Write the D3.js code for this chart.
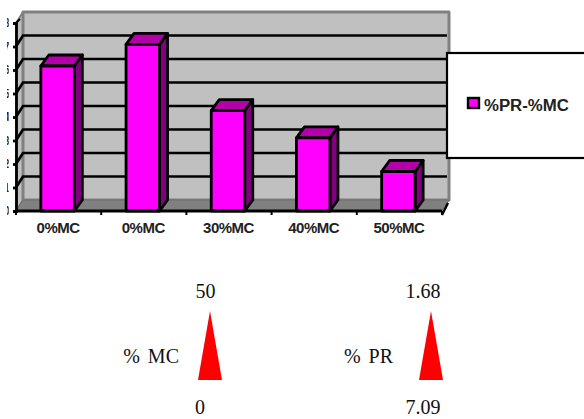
<!DOCTYPE html>
<html><head><meta charset="utf-8">
<script src="https://cdn.jsdelivr.net/npm/d3@7"></script>
<style>html,body{margin:0;padding:0;background:#fff}svg{display:block}</style>
</head><body><div id="c"></div>
<script>
const categories=["0%MC","0%MC","30%MC","40%MC","50%MC"];
const prValues=[6.17,7.09,4.27,3.11,1.68];
const yTicks=[0,1,2,3,4,5,6,7,8];
const seriesName="%PR-%MC";
const wedges=[{label:"% MC",top:"50",bottom:"0"},{label:"% PR",top:"1.68",bottom:"7.09"}];

const svg=d3.select("#c").append("svg").attr("width",584).attr("height",419);
const dx=7,dy=11;
const y=d3.scaleLinear().domain([0,8]).range([211,23]);
const bandX=d3.scaleBand().domain(d3.range(categories.length)).range([16,442]);
const x0=16,x1=442;
const poly=(pts,fill,stroke,sw)=>svg.append("polygon").attr("points",pts.map(p=>p.join(",")).join(" ")).attr("fill",fill).attr("stroke",stroke||"none").attr("stroke-width",sw||0).attr("stroke-linejoin","round");

// walls
poly([[x0,y(8)],[x0+dx,y(8)-dy],[x0+dx,y(0)-dy],[x0,y(0)]],"#c0c0c0","#808080",2);
poly([[x0+dx,y(8)-dy],[x1+dx,y(8)-dy],[x1+dx,y(0)-dy],[x0+dx,y(0)-dy]],"#c0c0c0","#808080",3);
poly([[x0,y(0)],[x0+dx,y(0)-dy],[x1+dx,y(0)-dy],[x1,y(0)]],"#808080","#6e6e6e",1);

// gridlines
svg.append("g").selectAll("path").data(yTicks.slice(1,-1)).join("path")
 .attr("d",d=>`M${x0},${y(d)}L${x0+dx},${y(d)-dy}H${x1+dx-2}`)
 .attr("fill","none").attr("stroke","#000").attr("stroke-width",2.7);
svg.append("path").attr("d",`M${x0},${y(8)}L${x0+dx-3},${y(8)-4}`).attr("stroke","#000").attr("stroke-width",2);

// axes
const gy=svg.append("g").attr("transform",`translate(${x0},0)`).call(d3.axisLeft(y).tickValues(yTicks).tickSize(3).tickPadding(6));
gy.selectAll("path,line").attr("stroke","#000").attr("stroke-width",2.8);
gy.selectAll("text").attr("font-family","Liberation Sans").attr("font-weight","bold").attr("font-size",12).attr("fill","#222").attr("x",-6);
gy.selectAll(".tick text").attr("clip-path","url(#labLocal)");
svg.append("defs").append("clipPath").attr("id","labLocal").append("rect").attr("x",-9).attr("y",-10).attr("width",1.7).attr("height",20);

// bars
const g=svg.append("g").selectAll("g").data(prValues).join("g");
const sw=2.8,bw=33.5;
const bx=(d,i)=>bandX(i)+bandX.bandwidth()/2-bw/2-1;
g.each(function(d,i){
  const s=d3.select(this),l=bx(d,i),r=l+bw,t=y(d),b=y(0),ddx=8,ddy=11;
  const p=(pts,f)=>s.append("polygon").attr("points",pts.map(q=>q.join(",")).join(" ")).attr("fill",f).attr("stroke","#000").attr("stroke-width",sw).attr("stroke-linejoin","round");
  p([[r,t],[r+ddx,t-ddy],[r+ddx,b-ddy],[r,b]],"#800080");
  p([[l,t],[l+ddx,t-ddy],[r+ddx,t-ddy],[r,t]],"#b400a8");
  p([[l,t],[r,t],[r,b],[l,b]],"#ff00ff");
});

// baseline on top
svg.append("path").attr("d",`M${x0},${y(0)}H${x1}`).attr("stroke","#000").attr("stroke-width",2.8);
svg.append("g").selectAll("line").data(d3.range(categories.length+1)).join("line")
 .attr("x1",i=>x0+i*bandX.step()).attr("x2",i=>x0+i*bandX.step()).attr("y1",y(0)).attr("y2",y(0)+4).attr("stroke","#000").attr("stroke-width",2);
svg.append("path").attr("d",`M${x1},${y(0)+4}L${x1+dx-1},${y(0)-8}`).attr("stroke","#000").attr("stroke-width",2.4);

// category labels
svg.append("g").selectAll("text").data(categories).join("text")
 .attr("x",(d,i)=>bandX(i)+bandX.bandwidth()/2-0.5).attr("y",233).attr("text-anchor","middle")
 .attr("font-family","Liberation Sans").attr("font-weight","bold").attr("font-size",15).attr("letter-spacing",-0.5).attr("fill","#222").text(d=>d);

// legend
svg.append("rect").attr("x",447).attr("y",53).attr("width",150).attr("height",105).attr("fill","#fff").attr("stroke","#000").attr("stroke-width",2.2);
svg.append("rect").attr("x",468).attr("y",98).attr("width",11).attr("height",10).attr("fill","#ff00ff").attr("stroke","#000").attr("stroke-width",2.4);
svg.append("text").attr("x",484).attr("y",110.5).attr("font-family","Liberation Sans").attr("font-weight","bold").attr("font-size",16.8).attr("fill","#222").text(seriesName);

// wedges
const wx=d3.scaleOrdinal().domain(wedges.map(d=>d.label)).range([210,431]);
const wg=svg.append("g").selectAll("g").data(wedges).join("g").attr("transform",d=>`translate(${wx(d.label)},0)`);
wg.append("polygon").attr("points","0,311 -12,380 12,380").attr("fill","#ff0000");
const serif=s=>s.attr("font-family","Liberation Serif").attr("font-size",20).attr("fill","#111");
wg.append("text").attr("x",(d,i)=>i?-8:-4.5).attr("y",298).attr("text-anchor","middle").text(d=>d.top).call(serif);
wg.append("text").attr("x",(d,i)=>i?-8:-10).attr("y",414).attr("text-anchor","middle").text(d=>d.bottom).call(serif);
wg.append("text").attr("x",(d,i)=>i?-38:-31).attr("y",363).attr("text-anchor","end").attr("word-spacing",3).text(d=>d.label).call(serif);
</script></body></html>
